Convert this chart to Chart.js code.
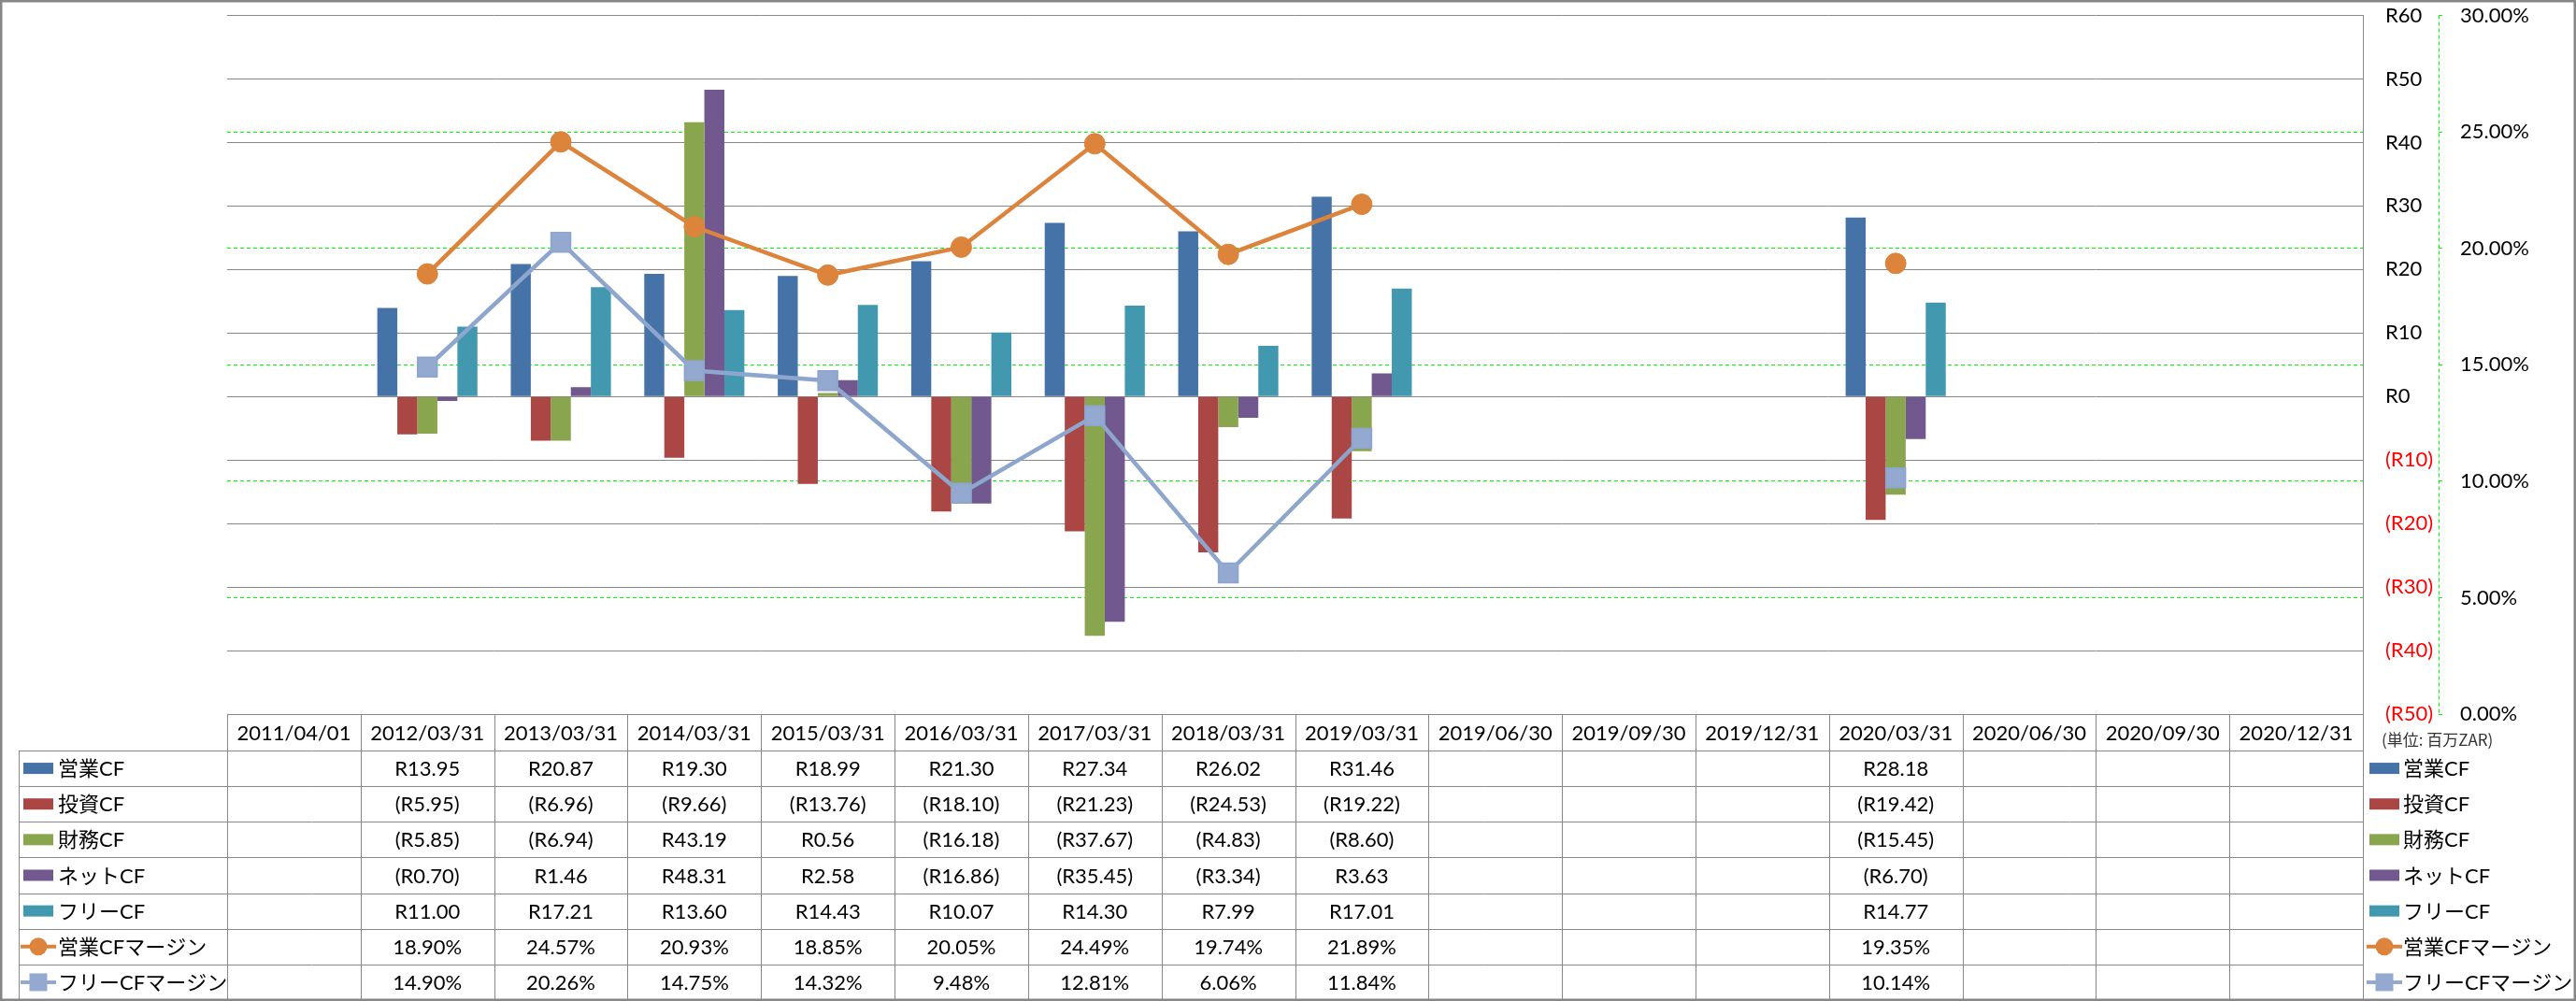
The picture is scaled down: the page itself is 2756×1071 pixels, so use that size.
<!DOCTYPE html>
<html lang="ja">
<head>
<meta charset="UTF-8">
<title>キャッシュフロー推移</title>
<script src="https://cdn.jsdelivr.net/npm/chart.js"></script>
<style>
  html, body { margin: 0; padding: 0; background: #fff; }
  canvas { display: block; }
</style>
</head>
<body>
<canvas id="cf-chart" width="2756" height="1071"></canvas>
<script>
// periods shown along the bottom (table header)
const periods = ['2011/04/01', '2012/03/31', '2013/03/31', '2014/03/31', '2015/03/31', '2016/03/31',
  '2017/03/31', '2018/03/31', '2019/03/31', '2019/06/30', '2019/09/30', '2019/12/31',
  '2020/03/31', '2020/06/30', '2020/09/30', '2020/12/31'];

// cash flows, millions of ZAR
const opCF   = [null, 13.95, 20.87, 19.30, 18.99, 21.30, 27.34, 26.02, 31.46, null, null, null, 28.18, null, null, null];
const invCF  = [null, -5.95, -6.96, -9.66, -13.76, -18.10, -21.23, -24.53, -19.22, null, null, null, -19.42, null, null, null];
const finCF  = [null, -5.85, -6.94, 43.19, 0.56, -16.18, -37.67, -4.83, -8.60, null, null, null, -15.45, null, null, null];
const netCF  = [null, -0.70, 1.46, 48.31, 2.58, -16.86, -35.45, -3.34, 3.63, null, null, null, -6.70, null, null, null];
const freeCF = [null, 11.00, 17.21, 13.60, 14.43, 10.07, 14.30, 7.99, 17.01, null, null, null, 14.77, null, null, null];

// margins, %
const opMargin   = [null, 18.90, 24.57, 20.93, 18.85, 20.05, 24.49, 19.74, 21.89, null, null, null, 19.35, null, null, null];
const freeMargin = [null, 14.90, 20.26, 14.75, 14.32, 9.48, 12.81, 6.06, 11.84, null, null, null, 10.14, null, null, null];

const seriesNames = ['営業CF', '投資CF', '財務CF', 'ネットCF', 'フリーCF', '営業CFマージン', 'フリーCFマージン'];
const unitNote = '(単位: 百万ZAR)';

const colors = ['#4572A7', '#AA4643', '#89A54E', '#71588F', '#4298AF', '#DC843B', '#93A9CF'];
const GRID = '#878787';
const GREEN = '#00FF00';
const FONT = '22px Lato, "Noto Sans CJK JP", sans-serif';

Chart.defaults.font.family = 'Lato, "Noto Sans CJK JP", sans-serif';
Chart.defaults.font.size = 22;
Chart.defaults.color = '#000';

function fmtR(v) {
  return v < 0 ? '(R' + (-v).toFixed(2) + ')' : 'R' + v.toFixed(2);
}
function fmtP(v) {
  return v.toFixed(2) + '%';
}

const tableRows = [
  { data: opCF, fmt: fmtR, kind: 'bar' },
  { data: invCF, fmt: fmtR, kind: 'bar' },
  { data: finCF, fmt: fmtR, kind: 'bar' },
  { data: netCF, fmt: fmtR, kind: 'bar' },
  { data: freeCF, fmt: fmtR, kind: 'bar' },
  { data: opMargin, fmt: fmtP, kind: 'circle' },
  { data: freeMargin, fmt: fmtP, kind: 'square' }
];

function legendMark(ctx, kind, color, x0, x1, cy) {
  if (kind === 'bar') {
    ctx.fillStyle = color;
    ctx.fillRect(x0, cy - 6, x1 - x0, 12);
    return;
  }
  ctx.strokeStyle = color;
  ctx.lineWidth = 4;
  ctx.beginPath();
  ctx.moveTo(x0 - 3, cy);
  ctx.lineTo(x1 + 3, cy);
  ctx.stroke();
  ctx.fillStyle = color;
  const cx = (x0 + x1) / 2;
  if (kind === 'circle') {
    ctx.beginPath();
    ctx.arc(cx, cy, 9.5, 0, Math.PI * 2);
    ctx.fill();
  } else {
    ctx.fillRect(cx - 9.5, cy - 9.5, 19, 19);
  }
}

const tablePlugin = {
  id: 'dataTable',
  afterDraw(chart) {
    const ctx = chart.ctx;
    const area = chart.chartArea;
    const xs = chart.scales.x;
    const colW = (area.right - area.left) / periods.length;
    const top = area.bottom;
    const headH = 39;
    const rowH = 38.14;
    const bottom = top + headH + rowH * tableRows.length;
    const legLeft = 20;
    const px = v => Math.round(v) + 0.5;

    ctx.save();

    // secondary axis line (dashed green)
    const y1 = chart.scales.y1;
    ctx.strokeStyle = GREEN;
    ctx.lineWidth = 1;
    ctx.setLineDash([4, 3]);
    ctx.beginPath();
    ctx.moveTo(px(y1.left), area.top);
    ctx.lineTo(px(y1.left), area.bottom);
    ctx.stroke();
    ctx.setLineDash([]);

    // table grid
    ctx.strokeStyle = GRID;
    ctx.beginPath();
    ctx.moveTo(area.left, px(top));
    ctx.lineTo(area.right, px(top));
    for (let r = 0; r <= tableRows.length; r++) {
      const y = px(top + headH + r * rowH);
      ctx.moveTo(legLeft, y);
      ctx.lineTo(area.right, y);
    }
    for (let k = 0; k <= periods.length; k++) {
      const x = px(area.left + k * colW);
      ctx.moveTo(x, top);
      ctx.lineTo(x, bottom);
    }
    ctx.moveTo(px(legLeft), top + headH);
    ctx.lineTo(px(legLeft), bottom);
    ctx.moveTo(px(area.right), area.top);
    ctx.lineTo(px(area.right), bottom);
    ctx.stroke();

    // header and values
    ctx.font = FONT;
    ctx.fillStyle = '#000';
    ctx.textAlign = 'center';
    ctx.textBaseline = 'middle';
    periods.forEach((p, i) => {
      ctx.fillText(p, xs.getPixelForTick(i), top + headH / 2 + 1);
    });
    tableRows.forEach((row, r) => {
      const cy = top + headH + rowH * (r + 0.5) + 1;
      row.data.forEach((v, i) => {
        if (v === null) return;
        ctx.fillStyle = '#000';
        ctx.fillText(row.fmt(v), xs.getPixelForTick(i), cy);
      });
    });

    // legend keys in the table and on the right
    tableRows.forEach((row, r) => {
      const cy = top + headH + rowH * (r + 0.5);
      legendMark(ctx, row.kind, colors[r], 25, 57, cy);
      legendMark(ctx, row.kind, colors[r], 2535, 2567, cy);
      ctx.font = FONT;
      ctx.fillStyle = '#000';
      ctx.textAlign = 'left';
      ctx.textBaseline = 'middle';
      ctx.fillText(seriesNames[r], 62, cy + 1);
      ctx.fillText(seriesNames[r], 2571, cy + 1);
    });

    // unit note
    ctx.font = '17px "Noto Sans CJK JP", sans-serif';
    ctx.fillStyle = '#333';
    ctx.textAlign = 'left';
    ctx.fillText(unitNote, 2548, 792);

    // outer frame
    ctx.strokeStyle = GRID;
    ctx.strokeRect(0.5, 0.5, chart.width - 1, chart.height - 1);

    ctx.restore();
  }
};

const barSeries = [opCF, invCF, finCF, netCF, freeCF];

const datasets = barSeries.map((d, i) => ({
  type: 'bar',
  label: seriesNames[i],
  data: d,
  backgroundColor: colors[i],
  borderWidth: 0,
  yAxisID: 'y',
  order: 2,
  categoryPercentage: 0.75,
  barPercentage: 1.0
}));

datasets.push({
  type: 'line',
  label: seriesNames[5],
  data: opMargin,
  borderColor: colors[5],
  backgroundColor: colors[5],
  borderWidth: 4.5,
  pointStyle: 'circle',
  pointRadius: 11,
  pointBorderWidth: 1,
  pointBackgroundColor: colors[5],
  pointBorderColor: colors[5],
  yAxisID: 'y1',
  order: 1,
  tension: 0
});
datasets.push({
  type: 'line',
  label: seriesNames[6],
  data: freeMargin,
  borderColor: '#8EA6CD',
  backgroundColor: colors[6],
  borderWidth: 4.5,
  pointStyle: 'rect',
  pointRadius: 14.5,
  pointBorderWidth: 2,
  pointBackgroundColor: colors[6],
  pointBorderColor: '#8EA6CD',
  yAxisID: 'y1',
  order: 0,
  tension: 0
});

// keep the axis label padding from pushing the plot area down
function fixAxis(width) {
  return s => {
    s.width = width;
    s.paddingTop = 0;
    s.paddingBottom = 0;
  };
}

new Chart(document.getElementById('cf-chart'), {
  type: 'bar',
  data: { labels: periods, datasets: datasets },
  options: {
    responsive: false,
    animation: false,
    devicePixelRatio: 1,
    layout: { padding: { left: 243, top: 15, right: 0, bottom: 307 } },
    plugins: {
      legend: { display: false },
      tooltip: { enabled: false }
    },
    scales: {
      x: { display: false },
      y: {
        position: 'right',
        weight: 0,
        min: -50,
        max: 60,
        ticks: {
          stepSize: 10,
          padding: 24,
          color: c => c.tick.value < 0 ? '#FF0000' : '#000',
          callback: v => v < 0 ? '(R' + (-v) + ')' : 'R' + v
        },
        grid: { color: GRID, lineWidth: 1, drawTicks: false },
        border: { display: true, color: GRID },
        afterFit: fixAxis(81)
      },
      y1: {
        position: 'right',
        weight: 1,
        min: 0,
        max: 30,
        ticks: {
          stepSize: 5,
          padding: 19,
          color: '#000',
          callback: v => v.toFixed(2) + '%'
        },
        grid: {
          color: c => (c.tick && (c.tick.value === 0 || c.tick.value === 30)) ? 'rgba(0,0,0,0)' : GREEN,
          lineWidth: 1,
          drawTicks: true,
          tickLength: 4,
          tickColor: GREEN
        },
        border: { display: false, dash: [4, 3] },
        afterFit: fixAxis(147)
      }
    }
  },
  plugins: [tablePlugin]
});
</script>
</body>
</html>
